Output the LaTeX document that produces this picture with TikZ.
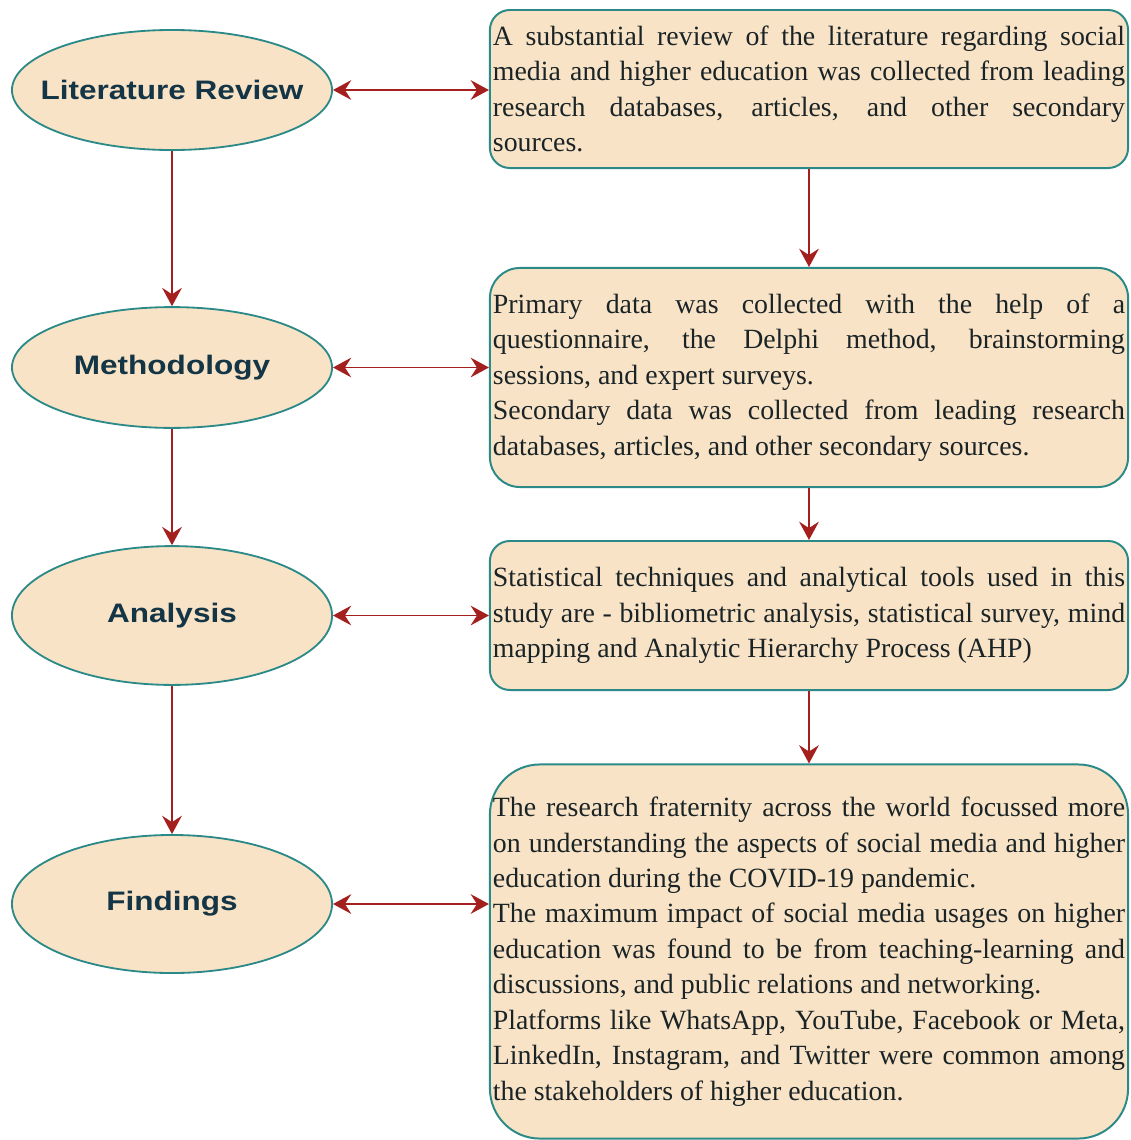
\documentclass[tikz,border=0pt]{standalone}
\usepackage{fontspec}
\setmainfont{Liberation Serif}
\newfontfamily\stagefont{Liberation Sans}[FakeStretch=1.18]
\usepackage{xcolor}
\usepackage{tikz}
\usetikzlibrary{shapes.geometric,arrows.meta}
\hyphenpenalty=10000
\exhyphenpenalty=10000
\definecolor{boxfill}{HTML}{F9E3C6}
\definecolor{boxline}{HTML}{2B8A87}
\definecolor{arrowred}{HTML}{A3201E}
\definecolor{labelink}{HTML}{143545}
\definecolor{textink}{HTML}{1A2427}
\newcommand{\stagetext}[1]{\makebox[0pt]{#1}}
\tikzstyle{stage} = [ellipse, draw=boxline, line width=1.3pt, fill=boxfill, minimum width=8cm, inner sep=0pt,
  font=\stagefont\bfseries\fontsize{19}{22}\selectfont, text=labelink]
\tikzstyle{detail} = [rectangle, draw=boxline, line width=1.4pt, fill=boxfill, minimum width=15.95cm,
  text width=15.8cm, inner xsep=0.075cm, align=justify, text=textink,
  font=\fontsize{19.8}{25.2}\selectfont]
\tikzstyle{line} = [draw=arrowred, line width=1.4pt, -{Stealth[length=13pt,width=14pt,inset=4.5pt]}]
\tikzstyle{both} = [line, {Stealth[length=13pt,width=14pt,inset=4.5pt]}-{Stealth[length=13pt,width=14pt,inset=4.5pt]}]

\begin{document}
\begin{tikzpicture}[x=0.025cm,y=-0.025cm]
\useasboundingbox (0,0) rectangle (1131,1140);
% stages on the left
\node[stage, minimum height=3cm] (litrev) at (172,90) {\stagetext{Literature Review}};
\node[stage, minimum height=3.02cm] (method) at (172,367.5) {\stagetext{Methodology}};
\node[stage, minimum height=3.47cm] (analysis) at (172,615.5) {\stagetext{Analysis}};
\node[stage, minimum height=3.45cm] (findings) at (172,904) {\stagetext{Findings}};
%
% details on the right
\node[detail, minimum height=3.95cm, rounded corners=5mm] (litbox) at (809,89) {A substantial review of the literature regarding social\linebreak media and higher education was collected from leading\linebreak research databases, articles, and other secondary\linebreak sources.};
\node[detail, minimum height=5.475cm, rounded corners=7.5mm] (methbox) at (809,377.5) {Primary data was collected with the help of a\linebreak questionnaire, the Delphi method, brainstorming\linebreak sessions, and expert surveys.\par Secondary data was collected from leading research\linebreak databases, articles, and other secondary sources.};
\node[detail, minimum height=3.725cm, rounded corners=5mm] (anabox) at (809,615.5) {Statistical techniques and analytical tools used in this\linebreak study are - bibliometric analysis, statistical survey, mind\linebreak mapping and Analytic Hierarchy Process (AHP)};
\node[detail, minimum height=9.35cm, rounded corners=12.5mm] (findbox) at (809,951.5) {The research fraternity across the world focussed more\linebreak on understanding the aspects of social media and higher\linebreak education during the COVID-19 pandemic.\par The maximum impact of social media usages on higher\linebreak education was found to be from teaching-learning and\linebreak discussions, and public relations and networking.\par Platforms like WhatsApp, YouTube, Facebook or Meta,\linebreak LinkedIn, Instagram, and Twitter were common among\linebreak the stakeholders of higher education.};
%
% arrows
\path[line] (litrev) -- (method);
\path[line] (method) -- (analysis);
\path[line] (analysis) -- (findings);
\path[line] (litbox) -- (methbox);
\path[line] (methbox) -- (anabox);
\path[line] (anabox) -- (findbox);
\path[both] (litrev.east) -- (litrev.east -| litbox.west);
\path[both] (method.east) -- (method.east -| methbox.west);
\path[both] (analysis.east) -- (analysis.east -| anabox.west);
\path[both] (findings.east) -- (findings.east -| findbox.west);
\end{tikzpicture}
\end{document}
